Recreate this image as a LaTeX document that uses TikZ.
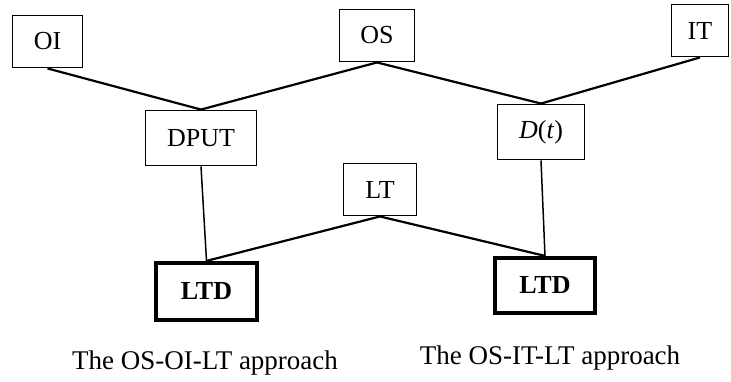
\documentclass[tikz,border=0pt]{standalone}
\usepackage{fontspec}
\setmainfont{Liberation Serif}
\begin{document}
\begin{tikzpicture}[x=1pt,y=-1pt,
  box/.style={draw,line width=1.9pt,rectangle,inner sep=0pt,font=\fontsize{26}{29}\selectfont},
  ltdbox/.style={draw,line width=4.2pt,rectangle,inner sep=0pt,font=\fontsize{26}{29}\selectfont\bfseries},
  link/.style={line width=2.2pt},
  vlink/.style={line width=1.5pt},
  captext/.style={inner sep=0pt,anchor=base,font=\fontsize{27}{30}\selectfont}]
\useasboundingbox (0,0) rectangle (731,381);
\node[box,minimum width=70pt,minimum height=52pt] (OI) at (47.5,41.5) {OI};
\node[box,minimum width=75pt,minimum height=52pt] (OS) at (377,35.5) {OS};
\node[box,minimum width=57pt,minimum height=52pt] (IT) at (700,30.5) {IT};
\node[box,minimum width=111pt,minimum height=55pt] (DPUT) at (201,138) {DPUT};
\node[box,minimum width=87pt,minimum height=55pt] (Dt) at (541,132) {\textit{D}(\textit{t})};
\node[box,minimum width=73pt,minimum height=52pt] (LT) at (380,189.5) {LT};
\node[ltdbox,minimum width=101pt,minimum height=57pt] (LTDa) at (206.5,291.5) {LTD};
\node[ltdbox,minimum width=100pt,minimum height=55pt] (LTDb) at (545,285.5) {LTD};
\node[captext] (capa) at (205,369) {The OS-OI-LT approach};
\node[captext] (capb) at (550,364) {The OS-IT-LT approach};
\draw[link] (OI.south) -- (DPUT.north);
\draw[link] (OS.south) -- (DPUT.north);
\draw[link] (OS.south) -- (Dt.north);
\draw[link] (IT.south) -- (Dt.north);
\draw[vlink] (DPUT.south) -- (LTDa.north);
\draw[vlink] (Dt.south) -- (LTDb.north);
\draw[link] (LT.south) -- (LTDa.north);
\draw[link] (LT.south) -- (LTDb.north);
\end{tikzpicture}
\end{document}
